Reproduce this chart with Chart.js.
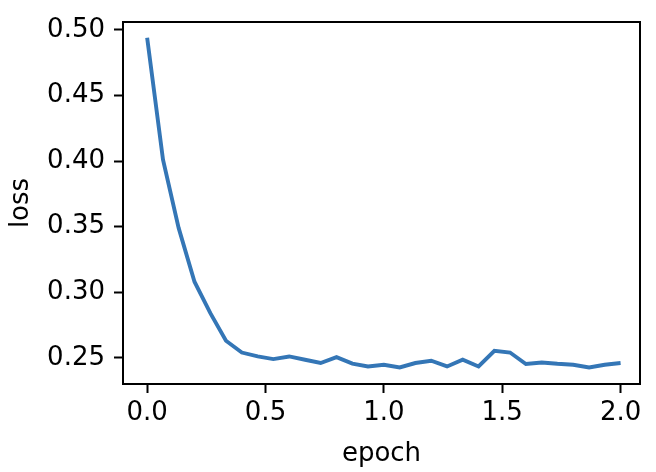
<!DOCTYPE html>
<html>
<head>
<meta charset="utf-8">
<script src="https://cdn.jsdelivr.net/npm/chart.js@4/dist/chart.umd.min.js"></script>
<style>
  html, body { margin: 0; padding: 0; background: #ffffff; }
  #wrap { width: 656px; height: 472px; }
</style>
</head>
<body>
<div id="wrap"><canvas id="lossChart" width="656" height="472"></canvas></div>
<script>
// Data
const epochs = [
    0.000, 0.067, 0.133, 0.200, 0.267, 0.333, 0.400, 0.467, 0.533, 0.600,
    0.667, 0.733, 0.800, 0.867, 0.933, 1.000, 1.067, 1.133, 1.200, 1.267,
    1.333, 1.400, 1.467, 1.533, 1.600, 1.667, 1.733, 1.800, 1.867, 1.933, 2.000
];
const loss = [
    0.494, 0.401, 0.349, 0.308, 0.284, 0.263, 0.254, 0.251, 0.249, 0.251,
    0.2485, 0.246, 0.2505, 0.2455, 0.2434, 0.2447, 0.2426, 0.246, 0.2477, 0.2434,
    0.2485, 0.2434, 0.2553, 0.254, 0.2452, 0.2464, 0.2454, 0.2447, 0.2426, 0.2447, 0.246
];
const xTicks = [0.0, 0.5, 1.0, 1.5, 2.0];
const yTicks = [0.25, 0.30, 0.35, 0.40, 0.45, 0.50];

const colors = {
    line: '#3476b6',
    axis: '#000000',
    text: '#000000'
};
const fontFamily = "'DejaVu Sans', sans-serif";

// draw a full box round the plot area, like matplotlib spines
const frameBox = {
    id: 'frameBox',
    afterDraw(chart) {
        const { ctx, chartArea: a } = chart;
        ctx.save();
        ctx.strokeStyle = colors.axis;
        ctx.lineWidth = 2;
        ctx.strokeRect(a.left, a.top, a.right - a.left, a.bottom - a.top);
        ctx.restore();
    }
};

const ctx = document.getElementById('lossChart');
const lossChart = new Chart(ctx, {
    type: 'line',
    data: {
        datasets: [{
            label: 'loss',
            data: epochs.map((e, i) => ({ x: e, y: loss[i] })),
            borderColor: colors.line,
            borderWidth: 3.9,
            pointRadius: 0,
            tension: 0,
            fill: false
        }]
    },
    options: {
        responsive: false,
        animation: false,
        devicePixelRatio: 1,
        layout: {
            padding: { top: 22, right: 16, left: 0, bottom: 0 }
        },
        plugins: {
            legend: { display: false },
            tooltip: { enabled: false }
        },
        scales: {
            x: {
                type: 'linear',
                min: -0.102,
                max: 2.082,
                afterBuildTicks: (scale) => {
                    scale.ticks = xTicks.map(v => ({ value: v }));
                },
                afterFit: (scale) => {
                    scale.height = 88;
                    scale.paddingLeft = 0;
                    scale.paddingRight = 0;
                },
                grid: {
                    drawOnChartArea: false,
                    drawTicks: true,
                    tickLength: 9,
                    tickColor: colors.axis,
                    tickWidth: 2
                },
                border: { display: true, color: colors.axis, width: 2 },
                ticks: {
                    color: colors.text,
                    padding: 5,
                    maxRotation: 0,
                    font: { family: fontFamily, size: 26, lineHeight: 1.2 },
                    callback: (v) => Number(v).toFixed(1)
                },
                title: {
                    display: true,
                    text: 'epoch',
                    color: colors.text,
                    padding: { top: 0, bottom: 2 },
                    font: { family: fontFamily, size: 26, lineHeight: 1.2 }
                }
            },
            y: {
                type: 'linear',
                min: 0.230,
                max: 0.506,
                afterBuildTicks: (scale) => {
                    scale.ticks = yTicks.map(v => ({ value: v }));
                },
                afterFit: (scale) => {
                    scale.width = 123;
                    scale.paddingTop = 0;
                    scale.paddingBottom = 0;
                },
                grid: {
                    drawOnChartArea: false,
                    drawTicks: true,
                    tickLength: 9,
                    tickColor: colors.axis,
                    tickWidth: 2
                },
                border: { display: true, color: colors.axis, width: 2 },
                ticks: {
                    color: colors.text,
                    padding: 9,
                    font: { family: fontFamily, size: 26, lineHeight: 1.2 },
                    callback: (v) => Number(v).toFixed(2)
                },
                title: {
                    display: true,
                    text: 'loss',
                    color: colors.text,
                    padding: { top: 6, bottom: 0 },
                    font: { family: fontFamily, size: 26, lineHeight: 1.2 }
                }
            }
        }
    },
    plugins: [frameBox]
});
</script>
</body>
</html>
